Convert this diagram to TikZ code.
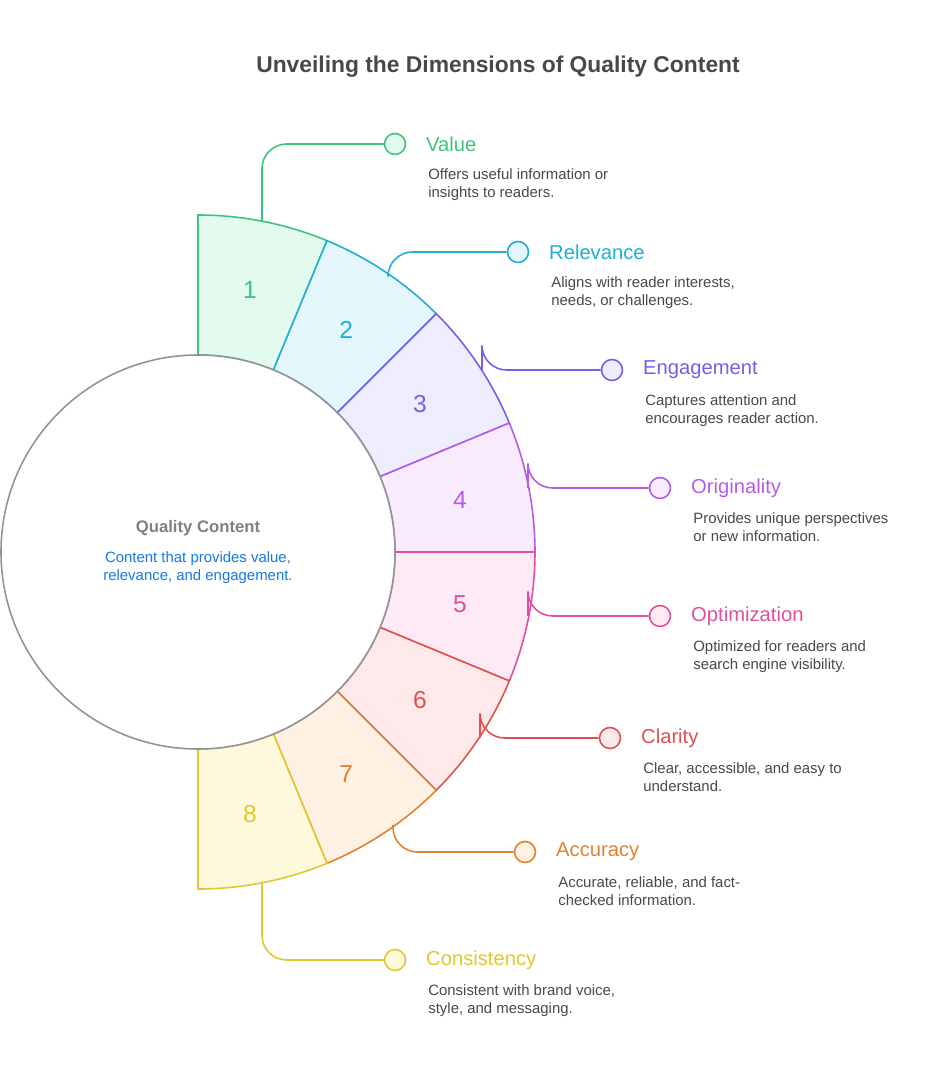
\documentclass[tikz,border=0pt]{standalone}
\usepackage{fontspec}
\setmainfont{Liberation Sans}
\definecolor{cA}{HTML}{3CC47C}\definecolor{fA}{HTML}{E2FBEE}
\definecolor{cB}{HTML}{1EAED6}\definecolor{fB}{HTML}{E4F6FC}
\definecolor{cC}{HTML}{7B5CE6}\definecolor{fC}{HTML}{EFEDFD}
\definecolor{cD}{HTML}{B45CE6}\definecolor{fD}{HTML}{F7EBFD}
\definecolor{cE}{HTML}{E0509A}\definecolor{fE}{HTML}{FDEAF4}
\definecolor{cF}{HTML}{E05050}\definecolor{fF}{HTML}{FDE9E9}
\definecolor{cG}{HTML}{E0822E}\definecolor{fG}{HTML}{FEF0E3}
\definecolor{cH}{HTML}{E0C82E}\definecolor{fH}{HTML}{FEF9DC}
\definecolor{txt}{HTML}{484848}
\tikzset{
  segnum/.style={font=\fontsize{14}{16}\selectfont},
  dotnode/.style={circle, draw, line width=0.9pt, minimum size=0.42cm, inner sep=0},
  headtext/.style={anchor=west, font=\fontsize{11.5}{13}\selectfont},
  desctext/.style={anchor=north west, text=txt, align=left, inner sep=0,
    font=\fontsize{8.5}{10.4}\selectfont},
}
\begin{document}
\begin{tikzpicture}[x=0.02cm, y=0.02cm]
\useasboundingbox (0,0) rectangle (942,1080);
\node[text=txt, font=\bfseries\fontsize{13}{15}\selectfont] (title) at (498,1013) {Unveiling the Dimensions of Quality Content};
% ring segments
\foreach \i/\col in {1/A,2/B,3/C,4/D,5/E,6/F,7/G,8/H}{
  \pgfmathsetmacro\sa{90-22.5*(\i-1)}
  \pgfmathsetmacro\ea{\sa-22.5}
  \pgfmathsetmacro\ma{\sa-11.25}
  \draw[c\col, fill=f\col, line width=0.9pt] ([shift={(\sa:197)}]198,528) arc[start angle=\sa, end angle=\ea, radius=197]
    -- ([shift={(\ea:337)}]198,528) arc[start angle=\ea, end angle=\sa, radius=337] -- cycle;
  \node[segnum, text=c\col] (num\i) at ([shift={(\ma:267)}]198,528) {\i};
}
\draw[gray!85, line width=0.9pt, fill=white] (198,528) circle[radius=197];
\node[text=gray, font=\bfseries\fontsize{9.5}{11}\selectfont] (core) at (198,552) {Quality Content};
\node[text=cB!70!blue, align=center, font=\fontsize{8.5}{10.4}\selectfont] (coredesc) at (198,512) {Content that provides value,\\relevance, and engagement.};
% callouts
\foreach \i/\col/\sx/\sy/\cx/\cy/\head/\desc in {
  1/A/262/858/395/936/Value/{Offers useful information or\\insights to readers.},
  2/B/388/807/518/828/Relevance/{Aligns with reader interests,\\needs, or challenges.},
  3/C/482/710/612/710/Engagement/{Captures attention and\\encourages reader action.},
  4/D/528/592/660/592/Originality/{Provides unique perspectives\\or new information.},
  5/E/528/464/660/464/Optimization/{Optimized for readers and\\search engine visibility.},
  6/F/480/342/610/342/Clarity/{Clear, accessible, and easy to\\understand.},
  7/G/393/255/525/228/Accuracy/{Accurate, reliable, and fact-\\checked information.},
  8/H/262/198/395/120/Consistency/{Consistent with brand voice,\\style, and messaging.}}{
  \coordinate (s\i) at (\sx,\sy);
  \node[dotnode, draw=c\col, fill=f\col] (dot\i) at (\cx,\cy) {};
  \draw[c\col, line width=0.9pt, rounded corners=14] (s\i) |- (dot\i);
  \node[headtext, text=c\col] (head\i) at (\cx+25,\cy) {\head};
  \node[desctext] (desc\i) at (\cx+33,\cy-24) {\desc};
}
\end{tikzpicture}
\end{document}
